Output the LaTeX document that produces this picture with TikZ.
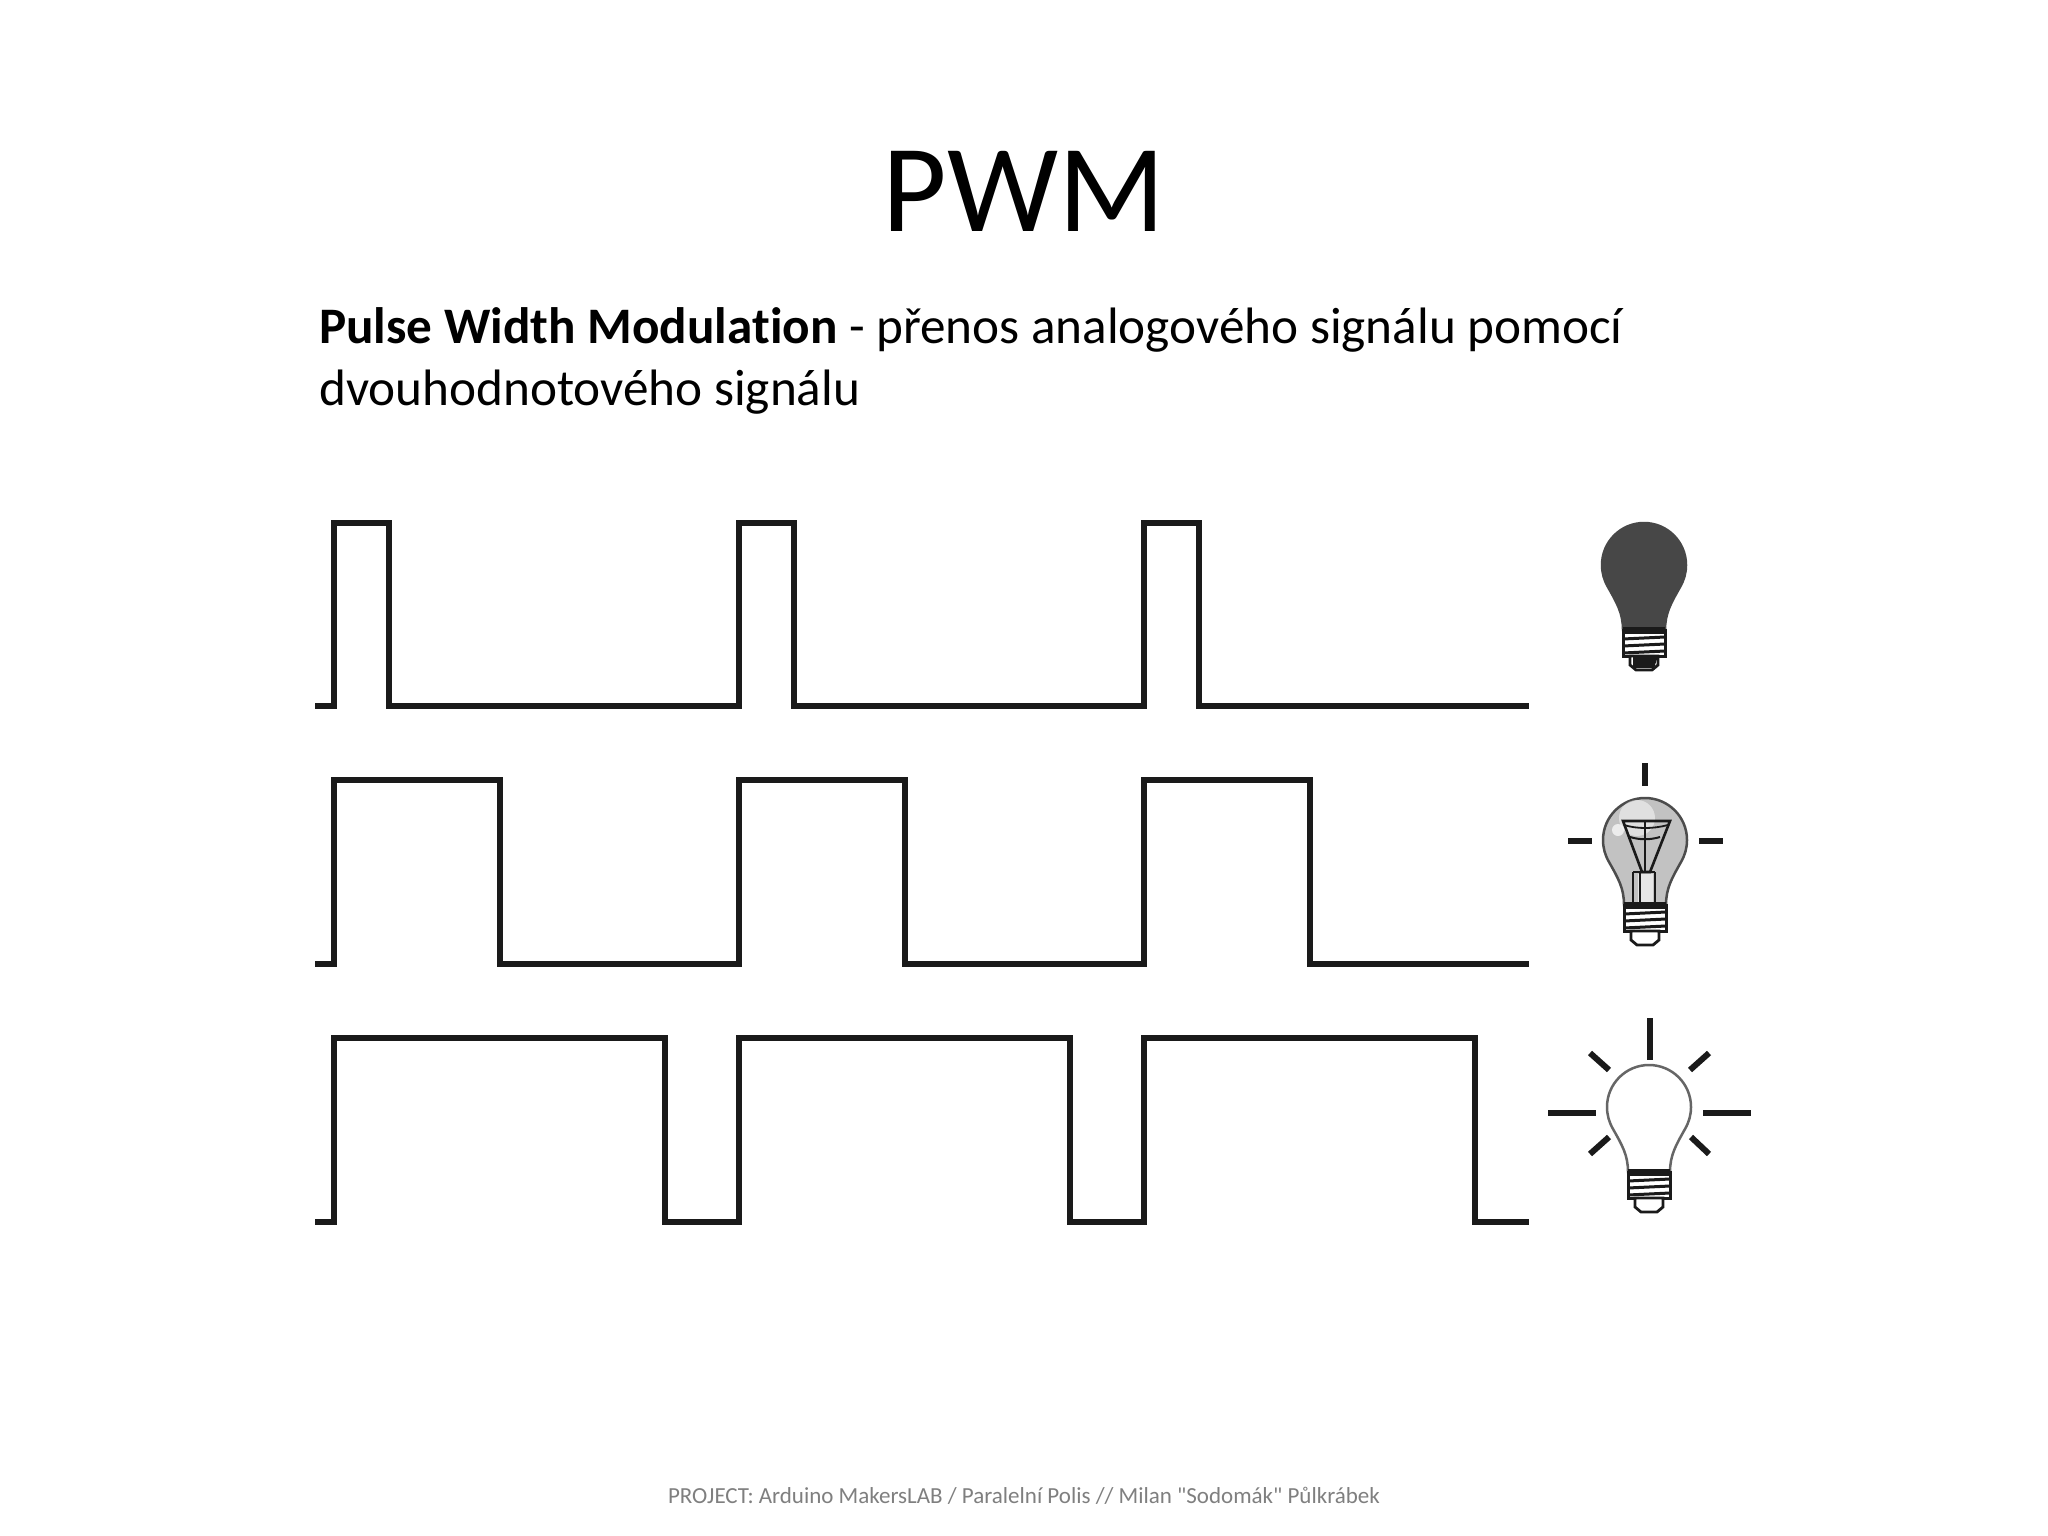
\documentclass[tikz,border=0pt]{standalone}
\usepackage{fontspec}
\newfontfamily\carl{Carlito}[Ligatures=NoCommon]
\definecolor{ink}{HTML}{1A1A1A}
\definecolor{footgray}{HTML}{7F7F7F}
\tikzset{
  wave/.style={draw=ink,line width=6.5pt,line join=miter},
  ray/.style={draw=ink,line width=6pt},
  thread/.style={draw=ink,line width=3pt},
  heading/.style={font=\carl\fontsize{125}{125}\selectfont,anchor=base,inner sep=0pt,text=black},
  bodytext/.style={font=\carl\fontsize{51.2}{60}\selectfont,anchor=base west,inner sep=0pt,text=black},
  foot/.style={font=\carl\fontsize{23}{27}\selectfont,anchor=base,inner sep=0pt,text=footgray},
}
\newcommand{\wavetrace}[3]{% top, bottom, pulse width
  \draw[wave] (315,#2) -- (334,#2)
    -- (334,#1) -- ({334+#3},#1) -- ({334+#3},#2)
    -- (739,#2) -- (739,#1) -- ({739+#3},#1) -- ({739+#3},#2)
    -- (1144,#2) -- (1144,#1) -- ({1144+#3},#1) -- ({1144+#3},#2)
    -- (1529,#2);
}
% globe fill, globe edge: drawn with origin at the centre of the globe
\newcommand{\bulbbody}[2]{%
  \path[fill=#1,draw=#2,line width=2.5pt] (-21,65) .. controls (-21,48) and (-27,38) .. (-36,22)
    .. controls (-40,15) and (-42,8) .. (-42,0)
    .. controls (-42,-23.2) and (-23.2,-42) .. (0,-42)
    .. controls (23.2,-42) and (42,-23.2) .. (42,0)
    .. controls (42,8) and (40,15) .. (36,22)
    .. controls (27,38) and (21,48) .. (21,65) -- cycle;
}
\newcommand{\bulbbase}{%
  \fill[ink] (-21,62) rectangle (21,69);
  \foreach \yy in {74,81,88} { \draw[thread] (-21,\yy) -- (21,{\yy-2}); }
  \draw[thread] (-21,64) -- (-21,91) -- (21,91) -- (21,64);
  \path[fill=white,draw=ink,line width=2.8pt] (-14,91) -- (-14,100) -- (-8,105) -- (8,105) -- (14,100) -- (14,91) -- cycle;
}
\begin{document}
\begin{tikzpicture}[x=1pt,y=-1pt]
\useasboundingbox (0,0) rectangle (2048,1536);
\fill[white] (0,0) rectangle (2048,1536);

\node[heading] (title) at (1024,231) {PWM};
\node[bodytext] (line1) at (319,343) {\textbf{Pulse Width Modulation} - přenos analogového signálu pomocí};
\node[bodytext] (line2) at (319,405) {dvouhodnotového signálu};
\node[foot] (footer) at (1024,1503) {PROJECT: Arduino MakersLAB / Paralelní Polis // Milan "Sodomák" Půlkrábek};

\wavetrace{523}{706}{55}
\wavetrace{780}{964}{166}
\wavetrace{1038}{1222}{331}

% dark bulb
\begin{scope}[shift={(1644,565)}]
  \bulbbody{black!72}{black!72}
  \bulbbase
  \fill[ink] (-11,91) -- (-11,103) -- (10,103) -- (14,91) -- cycle;
\end{scope}

% half-lit bulb
\begin{scope}[shift={(1645,840)}]
  \bulbbody{black!24}{black!70}
  \fill[white,opacity=.5] (-8,-22) circle (18);
  \fill[white,opacity=.7] (-27,-10) circle (6);
  \fill[white,opacity=.6] (-7,34) rectangle (8,62);
  \draw[ink,line width=2.6pt] (-22,-19) -- (25,-19) -- (5,32) -- (-3,32) -- cycle;
  \draw[ink,line width=1.8pt] (-21,-15) .. controls (-8,-11) and (8,-11) .. (23,-15);
  \draw[ink,line width=2pt] (-15,-3) .. controls (-5,0) and (5,0) .. (15,-3);
  \draw[ink,line width=2.6pt] (0,-19) -- (0,32);
  \draw[ink,line width=2.6pt] (-12,32) -- (-12,63) (-5,32) -- (-5,63) (10,32) -- (10,63);
  \draw[ink,line width=2.4pt] (-12,32) -- (10,32);
  \bulbbase
  \draw[ray] (0,-77) -- (0,-54);
  \draw[ray] (-77,1) -- (-53,1);
  \draw[ray] (54,1) -- (78,1);
\end{scope}

% bright bulb
\begin{scope}[shift={(1649,1107)}]
  \bulbbody{white}{black!60}
  \bulbbase
  \draw[ray] (1,-89) -- (1,-47);
  \draw[ray] (-101,6) -- (-53,6);
  \draw[ray] (54,6) -- (102,6);
  \draw[ray] (-59,-54) -- (-40,-37);
  \draw[ray] (41,-37) -- (60,-54);
  \draw[ray] (-59,47) -- (-40,30);
  \draw[ray] (42,30) -- (60,47);
\end{scope}
\end{tikzpicture}
\end{document}
